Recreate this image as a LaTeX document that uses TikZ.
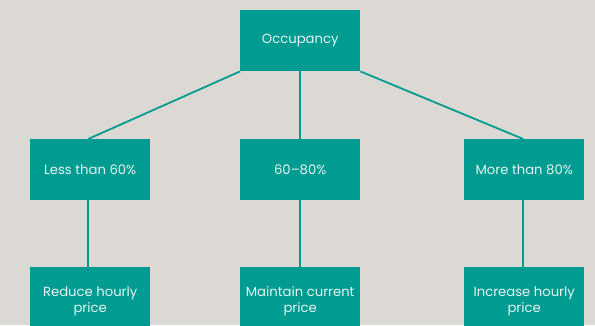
\documentclass[tikz,border=0pt]{standalone}
\usepackage{fontspec}
\setmainfont{Poppins}
\definecolor{bg}{HTML}{DCD9D5}
\definecolor{teal}{HTML}{009C91}
\definecolor{txt}{HTML}{E6F3F1}
\begin{document}
\begin{tikzpicture}[x=1pt,y=-1pt,
  box/.style={fill=teal,draw=none,minimum width=120pt,minimum height=61pt,inner sep=0pt,text=txt,font=\fontsize{13.2}{16}\selectfont,align=center,anchor=north west},
  tallbox/.style={box,minimum height=68pt},
  link/.style={draw=teal,line width=1.8pt}]
\useasboundingbox (0,0) rectangle (595,325);
\clip (0,0) rectangle (595,325);
\fill[bg] (0,0) rectangle (595,325);
\node[box] (top) at (240,10) {Occupancy};
\node[box] (l) at (30,139) {Less than 60\%};
\node[box] (m) at (240,139) {60–80\%};
\node[box] (r) at (464,139) {More than 80\%};
\node[tallbox] (lb) at (30,267) {Reduce hourly\\price};
\node[tallbox] (mb) at (240,267) {Maintain current\\price};
\node[tallbox] (rb) at (464,267) {Increase hourly\\price};
\draw[link] (top.south west) -- ([xshift=-2pt]l.north);
\draw[link] (top.south) -- (m.north);
\draw[link] (top.south east) -- ([xshift=-1pt]r.north);
\draw[link] ([xshift=-2pt]l.south) -- ([xshift=-2pt]lb.north);
\draw[link] (m.south) -- (mb.north);
\draw[link] ([xshift=-1pt]r.south) -- ([xshift=-1pt]rb.north);
\end{tikzpicture}
\end{document}
